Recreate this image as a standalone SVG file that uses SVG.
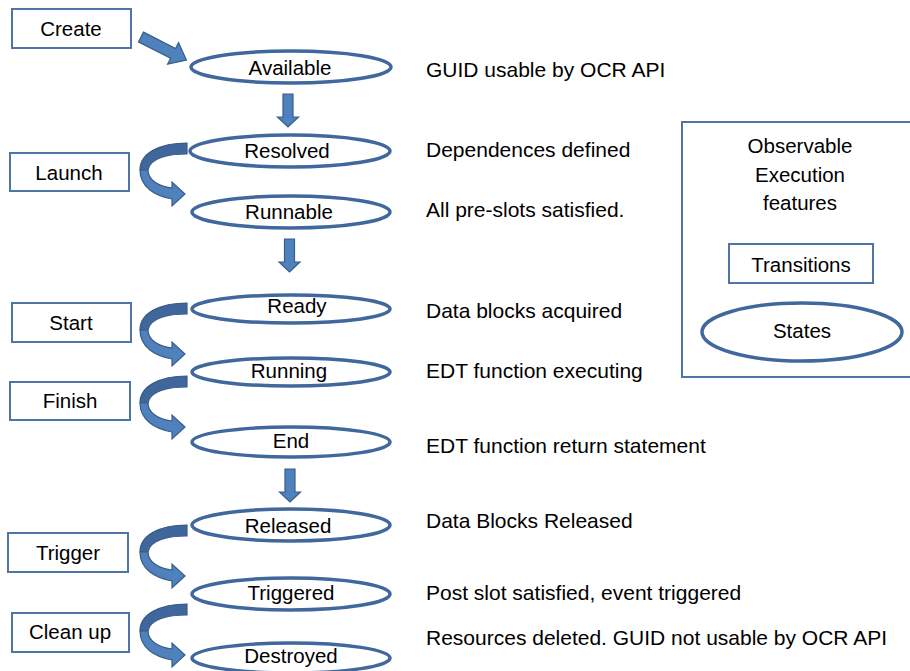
<svg xmlns="http://www.w3.org/2000/svg" xmlns:xlink="http://www.w3.org/1999/xlink" width="910" height="671" viewBox="0 0 910 671">
<style>
  text { font-family: "Liberation Sans", Arial, sans-serif; font-size: 20.5px; fill: #000; }
  .desc { font-size: 21px; }
  .mid { text-anchor: middle; }
  .state { fill: #fff; stroke: #41689c; stroke-width: 3.5; }
  .trans { fill: #fff; stroke: #4f74a6; stroke-width: 2; }
  .arrow { fill: #4f81bd; stroke: #385d8a; stroke-width: 1.2; }
  .back { fill: #40679b; stroke: #385d8a; stroke-width: 1.2; }
</style>
<defs>
  <g id="curved">
    <path class="back" d="M187,0 L187,11 C168,11 150,15 148,27 L140,27 C140,10 160,0 187,0 Z"/>
    <path class="arrow" d="M140,27 C140,44 155,53 172,56 L172,63 L185,51 L172,39 L172,45 C158,43 148,37 148,27 Z"/>
  </g>
  <path id="down" d="M-5,0 L5,0 L5,23 L10.5,23 L0,33 L-10.5,23 L-5,23 Z"/>
</defs>
<rect width="910" height="671" fill="#fff"/>

<g id="connectors">
  <path class="arrow" transform="translate(141,37) rotate(27)" d="M0,-5.5 L36,-5.5 L36,-12 L51,0 L36,12 L36,5.5 L0,5.5 Z"/>
  <use xlink:href="#down" class="arrow" transform="translate(288,94)"/>
  <use xlink:href="#down" class="arrow" transform="translate(289.5,239)"/>
  <use xlink:href="#down" class="arrow" transform="translate(290,469)"/>
  <use xlink:href="#curved" transform="translate(0,143)"/>
  <use xlink:href="#curved" transform="translate(0,303)"/>
  <use xlink:href="#curved" transform="translate(0,376)"/>
  <use xlink:href="#curved" transform="translate(0,525)"/>
  <use xlink:href="#curved" transform="translate(0,604)"/>
</g>

<g id="create"><rect class="trans" x="12" y="9" width="119" height="39"/><text class="mid" x="71" y="36">Create</text></g>
<g id="launch"><rect class="trans" x="10" y="153" width="119" height="38"/><text class="mid" x="69" y="180">Launch</text></g>
<g id="start"><rect class="trans" x="12" y="303" width="119" height="39"/><text class="mid" x="71" y="330">Start</text></g>
<g id="finish"><rect class="trans" x="10" y="382" width="120" height="38"/><text class="mid" x="70" y="408">Finish</text></g>
<g id="trigger"><rect class="trans" x="8" y="533" width="120" height="39"/><text class="mid" x="68" y="560">Trigger</text></g>
<g id="cleanup"><rect class="trans" x="12" y="613" width="117" height="39"/><text class="mid" x="70" y="639">Clean up</text></g>

<g id="available"><ellipse class="state" cx="291" cy="67" rx="100" ry="16"/><text class="mid" x="290" y="75">Available</text></g>
<g id="resolved"><ellipse class="state" cx="290" cy="151" rx="100" ry="16"/><text class="mid" x="287" y="158">Resolved</text></g>
<g id="runnable"><ellipse class="state" cx="291" cy="212" rx="99" ry="16"/><text class="mid" x="289" y="219">Runnable</text></g>
<g id="ready"><ellipse class="state" cx="291" cy="309" rx="99" ry="14"/><text class="mid" x="297" y="313">Ready</text></g>
<g id="running"><ellipse class="state" cx="291" cy="372" rx="99" ry="14"/><text class="mid" x="289" y="378">Running</text></g>
<g id="end"><ellipse class="state" cx="291" cy="442" rx="99" ry="15"/><text class="mid" x="291" y="448">End</text></g>
<g id="released"><ellipse class="state" cx="291" cy="525" rx="99" ry="16"/><text class="mid" x="288" y="533">Released</text></g>
<g id="triggered"><ellipse class="state" cx="291" cy="594" rx="99" ry="16"/><text class="mid" x="291" y="600">Triggered</text></g>
<g id="destroyed"><ellipse class="state" cx="291" cy="658" rx="99" ry="15"/><text class="mid" x="291" y="663">Destroyed</text></g>

<g id="descriptions">
  <text class="desc" x="426" y="77">GUID usable by OCR API</text>
  <text class="desc" x="426" y="157">Dependences defined</text>
  <text class="desc" x="426" y="217">All pre-slots satisfied.</text>
  <text class="desc" x="426" y="318">Data blocks acquired</text>
  <text class="desc" x="426" y="378">EDT function executing</text>
  <text class="desc" x="426" y="453">EDT function return statement</text>
  <text class="desc" x="426" y="528">Data Blocks Released</text>
  <text class="desc" x="426" y="600">Post slot satisfied, event triggered</text>
  <text class="desc" x="426" y="645">Resources deleted. GUID not usable by OCR API</text>
</g>

<g id="legend">
  <rect class="trans" x="682" y="122" width="240" height="255"/>
  <text class="mid" x="800" y="153">Observable</text>
  <text class="mid" x="800" y="182">Execution</text>
  <text class="mid" x="800" y="210">features</text>
  <g id="legend-transitions"><rect class="trans" x="729" y="244" width="144" height="39"/><text class="mid" x="801" y="272">Transitions</text></g>
  <g id="legend-states"><ellipse class="state" cx="802" cy="332" rx="100" ry="29"/><text class="mid" x="802" y="338">States</text></g>
</g>
</svg>
